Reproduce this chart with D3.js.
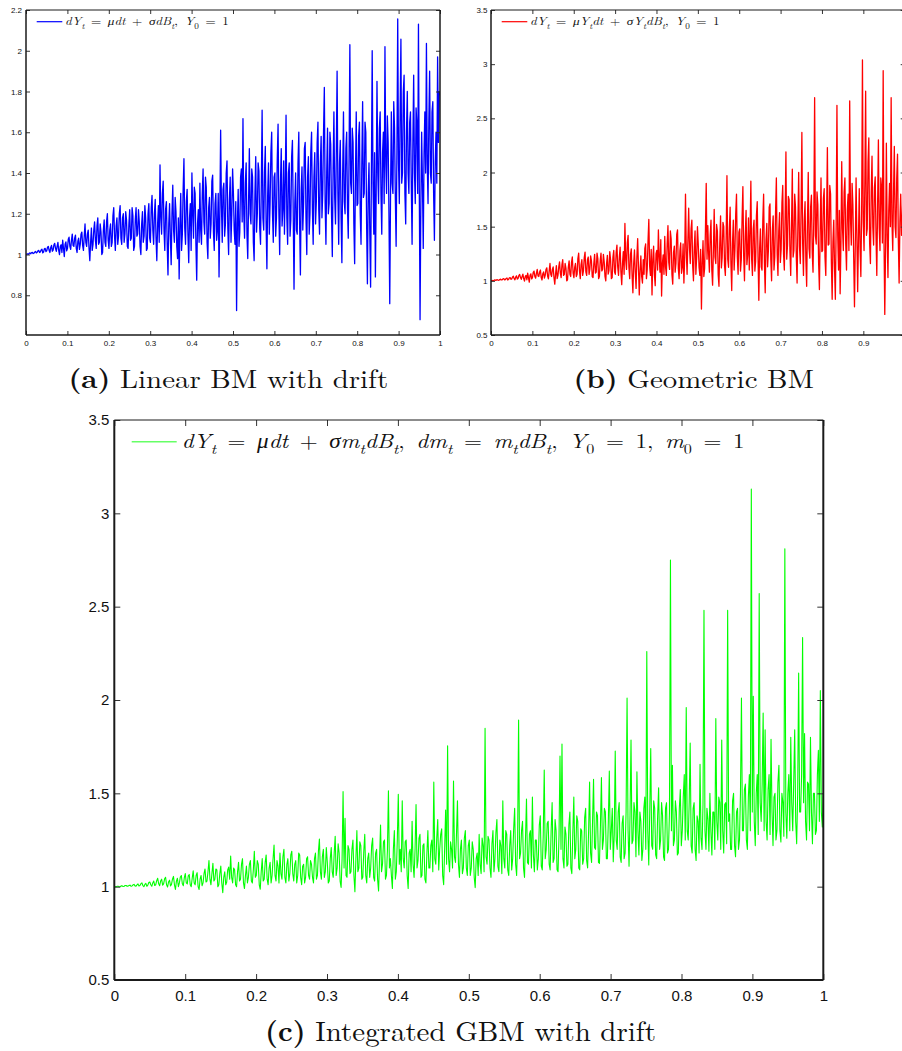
<!DOCTYPE html>
<html>
<head>
<meta charset="utf-8">
<script src="https://cdn.jsdelivr.net/npm/d3@7"></script>
<style>
  body { margin: 0; background: #fff; }
  svg { display: block; }
</style>
</head>
<body>
<svg id="fig" width="902" height="1051"></svg>
<script>
// Sample paths on t in [0,1], evenly spaced (t = i / (n - 1)).
const linearBM = [
  1.000,1.002,1.003,1.001,1.006,1.008,1.004,1.009,1.010,1.005,1.007,1.012,1.015,1.008,1.011,1.018,1.020,1.010,1.013,1.022,
  1.026,1.008,1.012,1.028,1.030,1.014,1.018,1.036,1.040,1.020,1.010,1.034,1.045,1.016,1.022,1.048,1.055,1.030,1.015,1.040,
  1.060,1.020,1.000,1.040,1.048,1.010,1.070,1.030,0.990,1.050,1.062,1.018,1.030,1.075,1.085,1.040,1.025,1.070,1.100,1.045,
  1.040,1.080,1.095,1.030,1.010,1.065,1.080,1.025,1.050,1.100,1.110,1.045,1.020,1.090,1.150,1.060,1.040,1.100,1.120,1.030,
  0.970,1.060,1.130,1.020,1.050,1.120,1.160,1.070,1.030,1.140,1.180,1.050,1.060,1.150,1.110,1.000,1.010,1.120,1.170,1.060,
  1.040,1.160,1.200,1.070,1.030,1.120,1.150,1.040,1.060,1.190,1.230,1.090,1.020,1.140,1.180,1.050,1.090,1.200,1.240,1.080,
  1.050,1.180,1.200,1.060,1.100,1.210,1.170,1.040,1.030,1.150,1.220,1.070,1.080,1.230,1.190,1.020,1.040,1.170,1.230,1.090,
  1.100,1.220,1.160,1.040,1.000,1.150,1.210,1.060,1.090,1.240,1.180,1.020,1.030,1.200,1.250,1.080,1.060,1.230,1.290,1.120,
  1.050,1.200,1.270,1.080,0.970,1.150,1.240,1.060,1.440,1.180,1.100,1.300,1.360,1.120,1.020,1.220,1.260,1.050,0.900,1.150,
  1.250,1.080,0.950,1.200,1.340,1.120,1.060,1.280,1.210,1.040,0.980,1.180,0.880,1.150,1.300,1.020,1.100,1.320,1.470,1.130,
  1.050,1.260,1.320,1.100,0.960,1.180,1.250,1.020,1.400,1.200,1.080,1.330,1.300,1.050,0.874,1.150,1.220,1.060,1.350,1.120,
  1.050,1.300,1.420,1.160,1.100,1.380,1.330,1.060,0.980,1.230,1.280,1.080,1.150,1.360,1.390,1.110,1.020,1.250,1.300,1.070,
  1.120,1.300,0.890,1.200,1.610,1.240,1.060,1.320,1.350,1.090,1.150,1.400,1.460,1.130,1.000,1.270,1.380,1.060,1.200,1.420,
  1.300,1.120,1.050,1.260,0.725,1.150,1.320,1.040,1.110,1.380,1.420,1.160,1.667,1.200,1.080,1.350,1.450,1.100,0.980,1.250,
  1.520,1.200,1.150,1.420,1.380,1.060,0.970,1.300,1.480,1.110,1.200,1.450,1.410,1.130,1.050,1.340,1.708,1.180,1.120,1.400,
  1.530,1.150,0.930,1.300,1.450,1.100,1.250,1.500,1.600,1.200,1.060,1.380,1.400,1.090,1.180,1.470,1.640,1.210,1.000,1.350,
  1.520,1.140,1.220,1.460,1.100,1.350,1.684,1.180,1.050,1.400,1.450,1.090,1.170,1.480,1.560,1.200,0.830,1.250,1.400,1.120,
  1.100,1.450,1.600,1.150,0.900,1.320,1.430,1.120,1.250,1.520,1.550,1.180,1.000,1.380,1.480,1.100,1.200,1.500,1.600,1.230,
  1.050,1.380,1.500,1.150,1.260,1.550,1.650,1.220,1.100,1.450,1.580,1.180,1.300,1.600,1.820,1.250,1.050,1.400,1.620,1.200,
  1.250,1.600,1.540,1.200,0.990,1.420,1.700,1.280,1.150,1.500,1.900,1.300,1.050,1.450,1.560,1.180,0.960,1.400,1.700,1.260,
  1.200,1.520,1.600,1.230,1.080,1.480,2.030,1.350,1.300,1.620,1.550,1.150,0.955,1.380,1.700,1.240,1.250,1.580,1.650,1.200,
  1.050,1.450,1.750,1.280,1.300,1.650,1.600,1.150,0.856,1.300,1.450,1.100,0.840,1.400,2.000,1.350,1.100,1.500,0.890,1.300,
  1.850,1.400,1.250,1.620,1.700,1.300,1.100,1.500,1.600,1.250,2.020,1.450,1.300,1.680,1.550,1.200,0.759,1.300,1.700,1.350,
  1.300,1.750,1.620,1.280,1.040,1.500,2.156,1.450,1.250,1.700,2.057,1.350,1.400,1.800,1.880,1.300,1.150,1.600,1.800,1.400,
  1.300,1.650,1.700,1.350,1.050,1.550,1.880,1.400,1.250,1.720,1.640,1.300,2.130,1.350,0.680,1.250,1.600,1.350,1.030,1.500,
  1.700,1.400,2.036,1.450,1.250,1.650,1.900,1.400,1.350,1.700,1.750,1.300,1.070,1.450,1.600,1.350,1.970,1.550,1.800,1.780
];

const geometricBM = [
  1.000,1.002,1.003,1.001,1.006,1.008,1.004,1.009,1.010,1.005,1.006,1.012,1.015,1.008,1.010,1.018,1.020,1.010,1.012,1.022,
  1.026,1.008,1.012,1.028,1.030,1.014,1.017,1.036,1.042,1.020,1.010,1.034,1.046,1.016,1.022,1.050,1.058,1.030,1.014,1.040,
  1.062,1.020,0.998,1.040,1.050,1.010,1.072,1.030,0.988,1.050,1.064,1.018,1.030,1.078,1.090,1.040,1.025,1.072,1.105,1.045,
  1.040,1.082,1.100,1.030,1.008,1.066,1.082,1.025,1.050,1.105,1.120,1.045,1.018,1.092,1.160,1.060,1.040,1.105,1.128,1.030,
  0.970,1.062,1.140,1.020,1.050,1.128,1.175,1.070,1.030,1.150,1.195,1.050,1.060,1.160,1.118,1.000,1.010,1.128,1.185,1.060,
  1.040,1.170,1.220,1.072,1.030,1.125,1.160,1.040,1.060,1.205,1.255,1.092,1.020,1.150,1.195,1.050,1.095,1.215,1.265,1.082,
  1.050,1.195,1.220,1.060,1.105,1.230,1.185,1.040,1.030,1.160,1.245,1.072,1.080,1.255,1.205,1.020,1.040,1.185,1.255,1.092,
  1.105,1.245,1.175,1.040,1.000,1.160,1.235,1.062,1.095,1.270,1.195,1.020,1.030,1.220,1.280,1.082,1.060,1.260,1.330,1.125,
  1.050,1.220,1.310,1.082,0.965,1.160,1.270,1.060,1.530,1.195,1.105,1.350,1.420,1.125,1.020,1.245,1.295,1.050,0.890,1.160,
  1.285,1.080,0.930,1.220,1.390,1.125,0.870,1.100,1.230,1.040,0.980,1.195,1.060,1.300,1.340,1.020,1.105,1.370,1.567,1.140,
  1.050,1.290,0.870,1.200,1.320,1.060,0.955,1.250,1.280,1.100,1.470,1.220,1.080,1.380,0.860,1.160,1.240,1.060,1.410,1.125,
  1.050,1.340,1.510,1.170,1.105,1.460,1.385,1.060,0.970,1.260,1.320,1.080,1.160,1.430,1.470,1.115,1.020,1.280,1.350,1.070,
  1.125,1.340,0.980,1.220,1.800,1.270,1.060,1.370,1.670,1.300,1.160,1.480,1.560,1.140,1.000,1.300,1.460,1.060,1.215,1.500,
  1.340,1.125,1.050,1.290,0.740,1.160,1.370,1.040,1.115,1.460,1.900,1.200,1.510,1.250,1.080,1.420,1.560,1.100,0.960,1.280,
  1.660,1.220,1.160,1.520,1.460,1.060,0.950,1.350,1.600,1.120,1.215,1.540,1.500,1.140,1.050,1.400,1.970,1.200,1.125,1.480,
  1.680,1.160,0.910,1.350,1.560,1.100,1.280,1.620,1.800,1.220,1.060,1.450,1.480,1.090,1.195,1.580,1.870,1.230,1.000,1.420,
  1.650,1.150,1.240,1.580,1.100,1.430,1.920,1.200,1.050,1.480,1.560,1.090,1.180,1.600,1.730,1.220,0.820,1.300,1.480,1.130,
  1.100,1.560,1.800,1.170,0.890,1.380,1.530,1.130,1.280,1.680,1.710,1.200,1.000,1.470,1.600,1.100,1.215,1.640,1.950,1.250,
  1.050,1.460,1.630,1.170,1.290,1.720,1.880,1.250,1.100,1.600,2.190,1.200,1.330,1.780,1.750,1.280,1.050,1.500,2.030,1.220,
  1.280,1.800,1.680,1.220,0.980,1.520,2.000,1.320,1.160,1.650,2.370,1.340,1.050,1.560,1.730,1.200,0.950,1.530,2.000,1.300,
  1.210,1.680,1.790,1.260,1.080,1.600,2.690,1.420,1.340,1.820,1.700,1.170,0.920,1.470,1.950,1.270,1.280,1.760,1.850,1.220,
  1.050,1.580,2.230,1.330,1.340,1.880,1.800,1.170,0.830,1.360,1.560,1.110,0.830,1.500,2.620,1.420,1.100,1.650,0.880,1.340,
  2.100,1.480,1.280,1.820,1.950,1.340,1.100,1.660,1.800,1.280,2.660,1.580,1.330,1.900,1.700,1.220,0.760,1.330,1.950,1.400,
  0.900,1.400,1.850,1.300,1.040,1.650,3.040,1.550,1.280,1.900,2.750,1.420,1.480,2.100,2.320,1.350,1.160,1.820,2.150,1.500,
  1.330,1.860,1.960,1.420,1.050,1.700,2.300,1.500,1.280,1.950,1.860,1.350,2.940,1.400,0.690,1.300,2.270,1.420,1.030,1.650,
  1.900,1.500,2.690,1.550,1.280,1.820,2.240,1.500,1.400,1.950,2.170,1.380,0.980,1.550,1.800,1.420,1.560,1.900,1.840,1.700
];

const integratedGBM = [
  1.000,1.001,1.000,1.002,1.002,1.000,1.001,1.004,1.004,1.001,1.002,1.006,1.006,1.002,1.003,1.007,1.008,1.002,1.004,1.010,
  1.012,1.004,1.003,1.010,1.015,1.004,1.006,1.016,1.020,1.006,1.000,1.012,1.018,1.002,1.008,1.022,1.025,1.010,1.002,1.020,
  1.030,1.006,1.010,1.032,1.045,1.015,1.005,1.030,1.040,1.008,1.015,1.042,1.050,1.010,0.998,1.025,1.035,1.004,1.012,1.040,
  1.055,1.010,0.985,1.030,1.045,1.000,1.020,1.052,1.060,1.015,1.005,1.048,1.070,1.020,1.015,1.058,1.065,1.010,1.000,1.045,
  1.085,1.020,1.010,1.060,1.075,1.000,0.985,1.040,1.060,1.005,1.020,1.070,1.095,1.025,1.030,1.080,1.140,1.040,1.010,1.070,
  1.125,1.030,1.040,1.095,1.090,1.000,1.010,1.070,1.110,1.020,0.968,1.050,1.080,1.010,1.025,1.090,1.105,1.040,1.164,1.050,
  1.020,1.100,1.090,1.010,1.000,1.080,1.130,1.030,1.040,1.120,1.150,1.020,0.990,1.060,1.110,1.020,1.050,1.120,1.140,1.030,
  1.020,1.090,1.190,1.050,1.060,1.140,1.120,1.010,0.986,1.080,1.150,1.030,1.040,1.130,1.170,1.040,1.010,1.100,1.130,1.020,
  1.060,1.150,1.223,1.060,1.030,1.140,1.110,1.020,1.180,1.070,1.040,1.160,1.200,1.050,1.020,1.120,1.150,1.030,1.070,1.170,
  1.190,1.070,1.030,1.120,1.140,1.020,1.060,1.180,1.170,1.050,1.010,1.110,1.120,1.020,1.050,1.150,1.160,1.060,1.040,1.140,
  1.120,1.050,1.020,1.150,1.180,1.040,1.060,1.190,1.255,1.080,1.040,1.160,1.200,1.050,1.080,1.210,1.130,1.020,1.030,1.150,
  1.210,1.080,1.050,1.180,1.270,1.060,1.100,1.230,1.180,1.030,0.996,1.150,1.509,1.100,1.366,1.060,1.050,1.220,1.200,1.070,
  1.080,1.200,1.250,1.060,0.973,1.150,1.300,1.080,1.100,1.240,1.220,1.040,1.050,1.190,1.280,1.060,1.020,1.150,1.180,1.050,
  1.100,1.220,1.260,1.050,1.030,1.180,1.200,1.040,0.977,1.150,1.330,1.080,1.120,1.240,1.250,1.040,1.060,1.200,1.514,1.100,
  1.150,1.060,0.990,1.200,1.300,1.040,1.080,1.250,1.495,1.120,1.200,1.080,1.460,1.150,1.100,1.240,1.250,1.060,0.990,1.180,
  1.200,1.080,1.350,1.120,1.050,1.200,1.440,1.100,1.140,1.260,1.280,1.050,1.060,1.220,1.230,1.040,1.020,1.180,1.300,1.100,
  1.100,1.220,1.250,1.080,1.560,1.150,1.120,1.260,1.360,1.090,1.200,1.280,1.310,1.060,1.010,1.200,1.410,1.120,1.754,1.150,
  1.080,1.240,1.200,1.100,1.566,1.160,1.130,1.280,1.460,1.120,1.050,1.200,1.250,1.070,1.100,1.260,1.300,1.100,1.060,1.220,
  1.250,1.060,1.100,1.240,1.200,1.050,0.995,1.150,1.180,1.060,1.280,1.120,1.070,1.260,1.220,1.080,1.848,1.160,1.120,1.270,
  1.250,1.100,1.050,1.230,1.300,1.080,1.150,1.290,1.360,1.110,1.080,1.250,1.220,1.070,1.460,1.150,1.100,1.300,1.280,1.090,
  1.060,1.220,1.300,1.090,1.150,1.310,1.420,1.120,1.060,1.250,1.893,1.150,1.180,1.300,1.350,1.100,1.050,1.260,1.470,1.130,
  1.120,1.280,1.300,1.100,1.480,1.170,1.080,1.250,1.250,1.090,1.150,1.330,1.380,1.110,1.090,1.280,1.625,1.150,1.200,1.340,
  1.350,1.120,1.090,1.300,1.450,1.130,1.150,1.360,1.300,1.090,1.080,1.280,1.700,1.200,1.764,1.150,1.100,1.320,1.280,1.110,
  1.120,1.330,1.400,1.100,1.070,1.290,1.480,1.150,1.200,1.380,1.350,1.100,1.090,1.310,1.300,1.120,1.150,1.370,1.420,1.140,
  1.100,1.300,1.560,1.180,1.130,1.350,1.575,1.210,1.200,1.400,1.380,1.130,1.125,1.330,1.584,1.200,1.250,1.420,1.400,1.150,
  1.150,1.350,1.620,1.200,1.300,1.420,1.134,1.280,1.727,1.250,1.200,1.400,1.450,1.160,1.130,1.340,1.380,1.150,1.180,1.400,
  2.010,1.300,1.110,1.380,1.786,1.230,1.250,1.450,1.400,1.160,1.616,1.300,1.170,1.400,1.350,1.140,1.200,1.420,1.480,1.200,
  2.260,1.300,1.116,1.400,1.740,1.220,1.200,1.460,1.420,1.170,1.150,1.380,1.530,1.200,1.250,1.450,1.380,1.160,1.140,1.420,
  1.450,1.180,1.200,1.400,2.750,1.300,1.650,1.220,1.250,1.460,1.400,1.170,1.180,1.420,1.520,1.220,1.300,1.480,1.600,1.250,
  1.960,1.300,1.250,1.450,1.770,1.220,1.180,1.420,1.450,1.200,1.140,1.380,1.350,1.180,1.655,1.260,1.200,1.440,2.480,1.300,
  1.200,1.420,1.360,1.190,1.500,1.300,1.170,1.400,1.400,1.200,1.900,1.350,1.250,1.480,1.450,1.200,1.786,1.300,1.180,1.440,
  1.450,1.230,2.480,1.350,1.390,1.200,1.200,1.460,1.500,1.220,1.160,1.400,1.420,1.200,1.250,1.500,2.010,1.300,1.300,1.520,
  1.550,1.250,1.200,1.480,1.600,1.300,3.130,1.400,2.020,1.350,1.220,1.500,1.600,1.280,2.570,1.450,1.350,1.550,1.930,1.300,
  1.840,1.350,1.250,1.520,1.600,1.280,1.790,1.400,1.220,1.480,1.500,1.250,1.300,1.560,1.650,1.300,1.240,1.500,1.450,1.270,
  2.810,1.400,1.260,1.500,1.600,1.300,1.800,1.450,1.300,1.560,1.840,1.350,1.230,1.500,2.145,1.400,1.400,1.600,2.335,1.450,
  1.820,1.350,1.250,1.560,1.550,1.300,1.800,1.400,1.230,1.500,1.500,1.280,1.300,1.600,1.730,1.350,2.050,1.400,1.320,1.500
];

// Tick values
const xTicks = [0, 0.1, 0.2, 0.3, 0.4, 0.5, 0.6, 0.7, 0.8, 0.9, 1];
const yTicksA = [0.8, 1, 1.2, 1.4, 1.6, 1.8, 2, 2.2];
const yTicksB = [0.5, 1, 1.5, 2, 2.5, 3, 3.5];
const yTicksC = [0.5, 1, 1.5, 2, 2.5, 3, 3.5];

// Legend entries (math, as italic / roman / subscript runs)
const SP = "\u2002";
const legendA = [["dY","i"],["t","s"],[SP+"="+SP,"r"],["μdt","i"],[SP+"+"+SP,"r"],["σdB","i"],["t","s"],[","+SP,"r"],["Y","i"],["0","sr"],[SP+"="+SP+"1","r"]];
const legendB = [["dY","i"],["t","s"],[SP+"="+SP,"r"],["μY","i"],["t","s"],["dt","i"],[SP+"+"+SP,"r"],["σY","i"],["t","s"],["dB","i"],["t","s"],[","+SP,"r"],["Y","i"],["0","sr"],[SP+"="+SP+"1","r"]];
const legendC = [["dY","i"],["t","s"],[SP+"="+SP,"r"],["μdt","i"],[SP+"+"+SP,"r"],["σm","i"],["t","s"],["dB","i"],["t","s"],[","+SP,"r"],["dm","i"],["t","s"],[SP+"="+SP,"r"],["m","i"],["t","s"],["dB","i"],["t","s"],[","+SP,"r"],["Y","i"],["0","sr"],[SP+"="+SP+"1,"+SP,"r"],["m","i"],["0","sr"],[SP+"="+SP+"1","r"]];

// Sub-figure captions
const captionA = [["(a)","b"],[" Linear BM with drift","r"]];
const captionB = [["(b)","b"],[" Geometric BM","r"]];
const captionC = [["(c)","b"],[" Integrated GBM with drift","r"]];

const SERIF = "'Latin Modern Roman','CMU Serif','Liberation Serif','Times New Roman',serif";
const SANS = "'Liberation Sans',Arial,Helvetica,sans-serif";

const svg = d3.select("#fig");

// Rich text: runs of italic / roman / bold / subscript, scaled to a target width
function richText(parent, x, y, size, parts, targetWidth, anchor) {
  const t = parent.append("text")
    .attr("x", x).attr("y", y)
    .attr("font-family", SERIF)
    .attr("font-size", size)
    .attr("fill", "#111")
    .attr("text-anchor", anchor);
  let shift = 0;
  parts.forEach(([str, kind]) => {
    const ts = t.append("tspan").text(str);
    const isSub = kind === "s" || kind === "sr";
    const target = isSub ? size * 0.28 : 0;
    if (target !== shift) { ts.attr("dy", target - shift); shift = target; }
    if (isSub) ts.attr("font-size", size * 0.7);
    if (kind === "i" || kind === "s") ts.attr("font-style", "italic");
    if (kind === "b") ts.attr("font-weight", "bold");
  });
  t.style("white-space", "pre");
  const w = t.node().getBBox().width;
  const s = targetWidth / w;
  t.attr("transform", `translate(${x},0) scale(${s},1) translate(${-x},0)`);
  return t;
}

function panel(cfg) {
  const g = svg.append("g");
  const x = d3.scaleLinear().domain([0, 1]).range([cfg.left, cfg.right]);
  const y = d3.scaleLinear().domain(cfg.yDomain).range([cfg.bottom, cfg.top]);

  const clipId = "clip-" + cfg.id;
  svg.append("clipPath").attr("id", clipId)
    .append("rect")
    .attr("x", cfg.left).attr("y", cfg.top)
    .attr("width", cfg.right - cfg.left).attr("height", cfg.bottom - cfg.top);

  const n = cfg.values.length;
  const line = d3.line()
    .x((d, i) => x(i / (n - 1)))
    .y(d => y(d));

  g.append("path")
    .attr("clip-path", `url(#${clipId})`)
    .attr("d", line(cfg.values))
    .attr("fill", "none")
    .attr("stroke", cfg.color)
    .attr("stroke-width", cfg.lineWidth)
    .attr("stroke-linejoin", "round");

  // tick labels that would fall past the page edge are left blank
  const fmt = d => (x(d) > cfg.maxLabelX ? "" : String(+d.toFixed(2)));
  const fmtY = d => String(+d.toFixed(2));
  const tl = cfg.tickLen;

  const styleAxis = sel => {
    sel.select(".domain").remove();
    sel.selectAll(".tick line").attr("stroke", "#333").attr("stroke-width", 1);
    sel.selectAll(".tick text")
      .attr("fill", "#111")
      .attr("font-family", SANS)
      .attr("font-size", cfg.fontSize);
  };

  g.append("g").attr("transform", `translate(0,${cfg.bottom})`)
    .call(d3.axisBottom(x).tickValues(xTicks).tickSizeInner(-tl).tickSizeOuter(0)
      .tickPadding(cfg.xPad).tickFormat(fmt))
    .call(styleAxis);
  g.append("g").attr("transform", `translate(0,${cfg.top})`)
    .call(d3.axisTop(x).tickValues(xTicks).tickSizeInner(-tl).tickSizeOuter(0).tickFormat(""))
    .call(styleAxis);
  g.append("g").attr("transform", `translate(${cfg.left},0)`)
    .call(d3.axisLeft(y).tickValues(cfg.yTicks).tickSizeInner(-tl).tickSizeOuter(0)
      .tickPadding(cfg.yPad).tickFormat(fmtY))
    .call(styleAxis);
  g.append("g").attr("transform", `translate(${cfg.right},0)`)
    .call(d3.axisRight(y).tickValues(cfg.yTicks).tickSizeInner(-tl).tickSizeOuter(0).tickFormat(""))
    .call(styleAxis);

  // Axes box
  const box = g.append("g").attr("stroke", "#1a1a1a").attr("fill", "none");
  box.append("line").attr("x1", cfg.left).attr("x2", cfg.right).attr("y1", cfg.top).attr("y2", cfg.top)
    .attr("stroke-width", 1);
  box.append("line").attr("x1", cfg.left).attr("x2", cfg.right).attr("y1", cfg.bottom).attr("y2", cfg.bottom)
    .attr("stroke-width", cfg.boxWidth);
  box.append("line").attr("x1", cfg.left).attr("x2", cfg.left).attr("y1", cfg.top).attr("y2", cfg.bottom)
    .attr("stroke-width", cfg.boxWidth);
  box.append("line").attr("x1", cfg.right).attr("x2", cfg.right).attr("y1", cfg.top).attr("y2", cfg.bottom)
    .attr("stroke-width", cfg.boxWidth);

  // Legend
  const lg = cfg.legend;
  g.append("line")
    .attr("x1", lg.x1).attr("x2", lg.x2).attr("y1", lg.y).attr("y2", lg.y)
    .attr("stroke", cfg.color).attr("stroke-width", lg.width)
    .attr("stroke-opacity", lg.opacity);
  richText(g, lg.tx, lg.ty, lg.size, lg.parts, lg.tw, "start");

  // Caption
  const cp = cfg.caption;
  richText(g, cp.x, cp.y, cp.size, cp.parts, cp.w, "middle");
}

panel({
  id: "a", values: linearBM, color: "#0000ff", lineWidth: 1.3,
  left: 26, right: 440, top: 10, bottom: 335, yDomain: [0.605, 2.2], yTicks: yTicksA,
  tickLen: 4, fontSize: 8, xPad: 5, yPad: 4, boxWidth: 1.5, maxLabelX: 902,
  legend: { x1: 36.7, x2: 62.3, y: 21.7, width: 1.2, opacity: 1, tx: 65, ty: 25.5, size: 11, parts: legendA, tw: 164 },
  caption: { x: 228.3, y: 388, size: 26, parts: captionA, w: 320 }
});

panel({
  id: "b", values: geometricBM, color: "#ff0000", lineWidth: 1.3,
  left: 491, right: 904.7, top: 10, bottom: 335, yDomain: [0.5, 3.5], yTicks: yTicksB,
  tickLen: 4, fontSize: 8, xPad: 5, yPad: 3.5, boxWidth: 1.5, maxLabelX: 898,
  legend: { x1: 501.7, x2: 527.3, y: 21.7, width: 1.2, opacity: 1, tx: 530, ty: 25.5, size: 11, parts: legendB, tw: 190 },
  caption: { x: 693.7, y: 388, size: 26, parts: captionB, w: 240.7 }
});

panel({
  id: "c", values: integratedGBM, color: "#00ff00", lineWidth: 1.1,
  left: 114.3, right: 823.3, top: 420, bottom: 980, yDomain: [0.5, 3.5], yTicks: yTicksC,
  tickLen: 6, fontSize: 15, xPad: 10, yPad: 5, boxWidth: 2, maxLabelX: 902,
  legend: { x1: 131.7, x2: 176.7, y: 441.7, width: 1.5, opacity: 0.6, tx: 181.7, ty: 448, size: 20, parts: legendC, tw: 563 },
  caption: { x: 460.5, y: 1041, size: 28, parts: captionC, w: 391 }
});
</script>
</body>
</html>
